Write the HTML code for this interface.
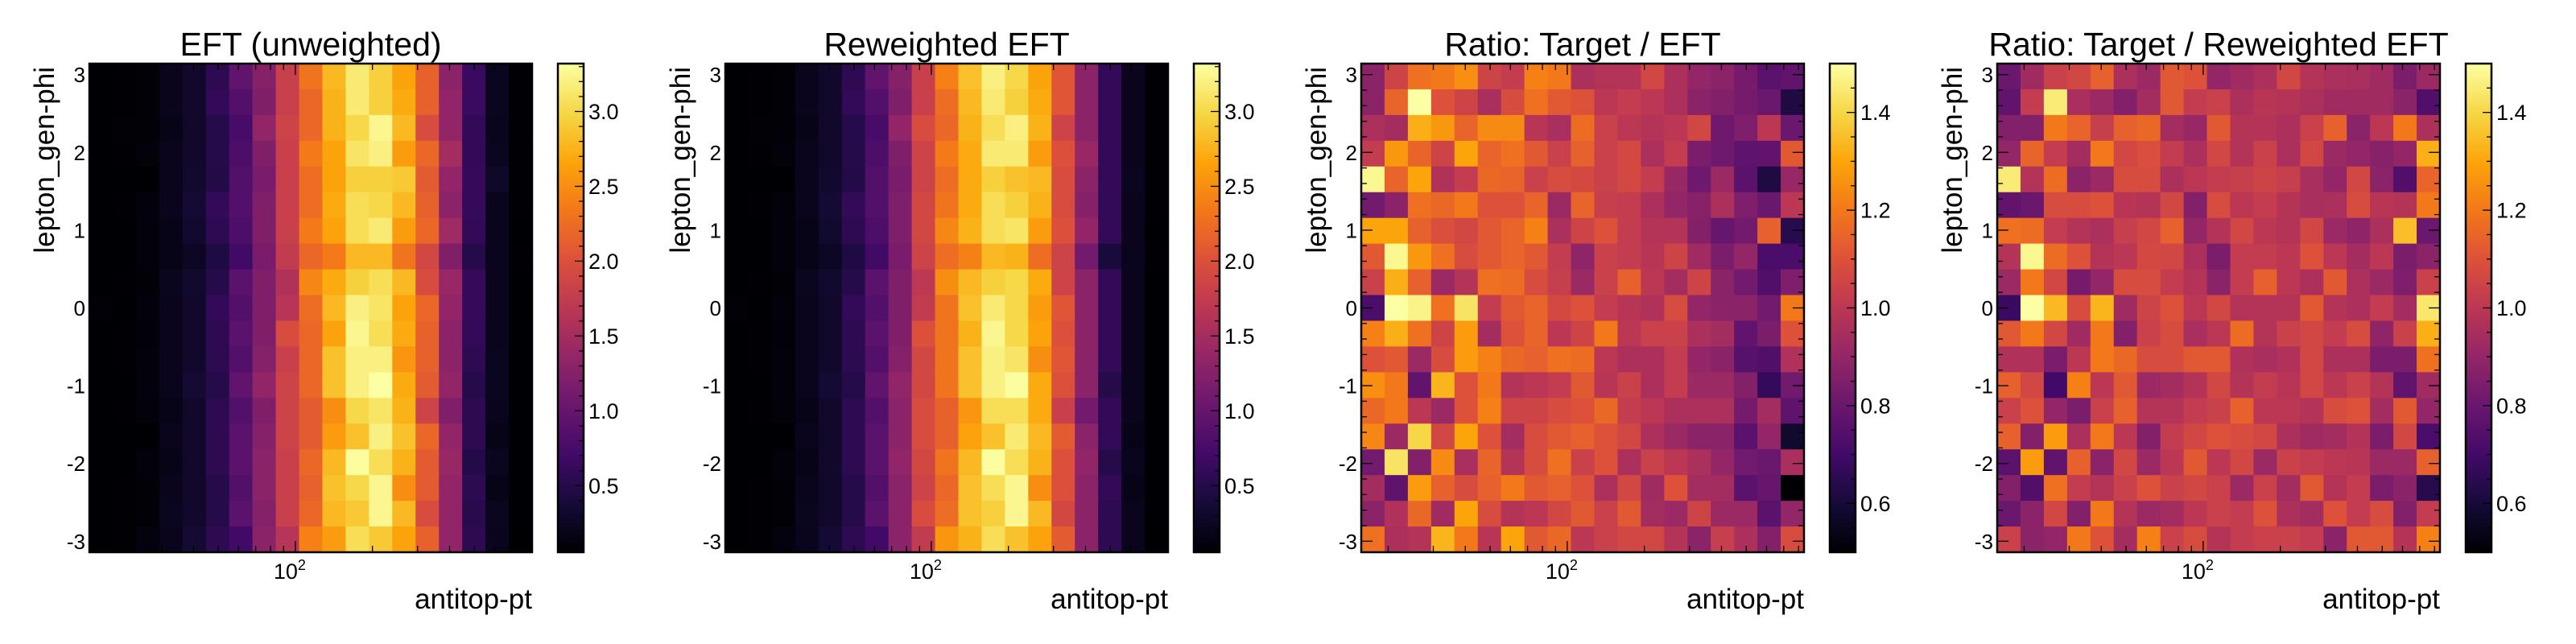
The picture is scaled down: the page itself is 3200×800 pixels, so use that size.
<!DOCTYPE html>
<html><head><meta charset="utf-8">
<style>
html,body{margin:0;padding:0;background:#fff;}
svg{display:block;font-family:"Liberation Sans",Arial,sans-serif;}
</style></head>
<body>
<svg id="fig" width="3200" height="800" viewBox="0 0 3200 800" xmlns="http://www.w3.org/2000/svg"></svg>
<script>
// ---- data (rows listed from top, phi ~ +3, to bottom, phi ~ -3; 19 antitop-pt bins) ----
const titles = ["EFT (unweighted)", "Reweighted EFT", "Ratio: Target / EFT", "Ratio: Target / Reweighted EFT"];
const ptMin = 15.7, ptMax = 840;
const nPtBins = 19, nPhiBins = 19;
const eftZRange = [0.055, 3.32];
const ratioZRange = [0.5, 1.5];
const eftCbTicks = [0.5, 1.0, 1.5, 2.0, 2.5, 3.0];
const eftCbLabels = ["0.5", "1.0", "1.5", "2.0", "2.5", "3.0"];
const ratioCbTicks = [0.6, 0.8, 1.0, 1.2, 1.4];
const ratioCbLabels = ["0.6", "0.8", "1.0", "1.2", "1.4"];
const phiTicks = [-3, -2, -1, 0, 1, 2, 3];
const phiLabels = ["-3", "-2", "-1", "0", "1", "2", "3"];

const eftUnweighted = [
[0.05,0.06,0.08,0.2,0.3,0.55,0.95,1.25,1.8,2.3,2.8,3.15,2.95,2.65,2.15,1.3,0.65,0.22,0.06],
[0.05,0.06,0.08,0.2,0.3,0.6,0.85,1.2,1.8,2.2,2.75,3.15,2.95,2.7,2.15,1.35,0.65,0.22,0.06],
[0.05,0.07,0.08,0.18,0.3,0.5,0.75,1.35,1.85,2.2,2.75,3.0,3.25,2.8,1.95,1.35,0.6,0.2,0.06],
[0.05,0.06,0.1,0.2,0.3,0.5,0.8,1.2,1.8,2.35,2.65,3.1,3.2,2.6,2.2,1.5,0.6,0.22,0.06],
[0.04,0.05,0.05,0.2,0.32,0.48,0.85,1.15,1.8,2.25,2.65,2.95,2.95,2.9,2.1,1.35,0.62,0.28,0.06],
[0.05,0.06,0.1,0.2,0.35,0.6,0.85,1.2,1.8,2.25,2.7,3.05,3.0,2.8,2.15,1.3,0.62,0.2,0.06],
[0.05,0.05,0.1,0.18,0.32,0.55,0.8,1.2,1.8,2.35,2.65,3.05,3.15,2.6,2.2,1.45,0.6,0.2,0.05],
[0.05,0.05,0.1,0.18,0.25,0.45,0.7,1.15,1.75,2.2,2.35,2.8,2.8,2.3,1.9,1.2,0.5,0.2,0.06],
[0.05,0.06,0.08,0.22,0.32,0.5,0.9,1.2,1.6,2.45,2.7,2.95,3.05,2.8,1.95,1.4,0.62,0.2,0.05],
[0.08,0.05,0.1,0.2,0.3,0.6,0.85,1.2,1.65,2.25,2.8,3.2,3.1,2.65,2.2,1.35,0.62,0.2,0.05],
[0.05,0.06,0.09,0.2,0.3,0.55,0.9,1.2,1.95,2.2,2.65,3.25,3.05,2.7,2.15,1.3,0.6,0.2,0.05],
[0.05,0.06,0.1,0.2,0.3,0.55,0.85,1.25,1.8,2.2,2.85,3.2,3.2,2.55,2.15,1.3,0.55,0.22,0.05],
[0.05,0.05,0.1,0.2,0.35,0.5,0.95,1.35,1.85,2.2,2.85,3.2,3.32,2.7,2.1,1.35,0.5,0.22,0.05],
[0.05,0.06,0.1,0.18,0.3,0.55,0.85,1.2,1.85,2.1,2.5,3.0,3.1,2.75,1.85,1.2,0.55,0.2,0.05],
[0.05,0.05,0.05,0.2,0.3,0.55,0.9,1.25,1.85,2.1,2.6,2.85,3.2,2.85,2.2,1.35,0.55,0.18,0.05],
[0.05,0.04,0.1,0.18,0.3,0.55,0.9,1.3,1.8,2.2,2.8,3.3,3.05,2.75,2.1,1.4,0.48,0.22,0.05],
[0.05,0.06,0.08,0.2,0.3,0.5,0.85,1.3,1.8,2.15,2.85,3.0,3.25,2.5,2.1,1.35,0.55,0.18,0.05],
[0.05,0.06,0.08,0.22,0.3,0.5,0.9,1.25,1.8,2.2,2.8,2.9,3.25,2.8,1.95,1.35,0.52,0.22,0.05],
[0.04,0.06,0.12,0.2,0.35,0.55,0.7,1.3,1.65,2.4,2.6,3.05,2.9,2.65,2.15,1.35,0.55,0.2,0.05]
];
const eftReweighted = [
[0.05,0.06,0.08,0.2,0.3,0.55,0.95,1.25,1.8,2.4,2.85,3.2,3.0,2.65,2.05,1.3,0.6,0.2,0.06],
[0.05,0.06,0.08,0.2,0.3,0.6,0.85,1.2,1.8,2.25,2.8,3.15,2.95,2.7,2.05,1.3,0.6,0.2,0.06],
[0.05,0.07,0.08,0.18,0.3,0.5,0.75,1.35,1.95,2.2,2.75,3.05,3.2,2.75,1.85,1.3,0.6,0.2,0.06],
[0.05,0.06,0.1,0.2,0.3,0.5,0.8,1.2,1.85,2.35,2.7,3.15,3.15,2.6,2.0,1.4,0.6,0.2,0.06],
[0.04,0.05,0.05,0.2,0.32,0.48,0.85,1.15,1.85,2.25,2.7,2.95,2.85,2.8,1.95,1.3,0.6,0.22,0.06],
[0.05,0.06,0.1,0.2,0.35,0.6,0.85,1.2,1.9,2.3,2.7,3.05,2.95,2.75,1.95,1.25,0.6,0.2,0.06],
[0.05,0.05,0.1,0.18,0.32,0.55,0.8,1.2,1.9,2.45,2.75,3.05,3.1,2.6,2.0,1.35,0.6,0.2,0.05],
[0.05,0.05,0.1,0.18,0.25,0.45,0.7,1.15,1.85,2.25,2.4,2.8,2.75,2.25,1.85,1.1,0.4,0.2,0.06],
[0.05,0.06,0.08,0.22,0.32,0.5,0.9,1.2,1.7,2.5,2.8,2.95,3.0,2.7,1.85,1.3,0.6,0.2,0.05],
[0.08,0.05,0.1,0.2,0.3,0.6,0.85,1.2,1.75,2.3,2.85,3.15,3.0,2.6,2.05,1.3,0.6,0.2,0.05],
[0.05,0.06,0.09,0.2,0.3,0.55,0.9,1.2,2.0,2.3,2.75,3.25,3.0,2.65,2.0,1.3,0.6,0.2,0.05],
[0.05,0.06,0.1,0.2,0.3,0.55,0.85,1.25,1.9,2.3,2.85,3.2,3.1,2.5,2.05,1.3,0.6,0.2,0.05],
[0.05,0.05,0.1,0.2,0.35,0.5,0.95,1.35,1.9,2.3,2.85,3.2,3.3,2.7,2.0,1.3,0.5,0.2,0.05],
[0.05,0.06,0.1,0.18,0.3,0.55,0.85,1.3,1.95,2.15,2.55,3.05,3.05,2.7,1.8,1.1,0.6,0.2,0.05],
[0.05,0.05,0.05,0.2,0.3,0.55,0.9,1.3,1.95,2.15,2.65,2.85,3.15,2.8,2.1,1.3,0.6,0.18,0.05],
[0.05,0.04,0.1,0.18,0.3,0.55,0.9,1.35,1.9,2.3,2.8,3.3,3.05,2.75,2.0,1.35,0.5,0.2,0.05],
[0.05,0.06,0.08,0.2,0.3,0.5,0.85,1.3,1.85,2.2,2.85,3.05,3.25,2.5,2.0,1.3,0.6,0.18,0.05],
[0.05,0.06,0.08,0.22,0.3,0.5,0.9,1.3,1.95,2.25,2.85,2.95,3.25,2.8,1.9,1.3,0.55,0.2,0.05],
[0.04,0.06,0.12,0.2,0.35,0.55,0.7,1.3,1.75,2.55,2.75,3.05,2.85,2.65,2.1,1.3,0.55,0.2,0.05]
];
const ratioTargetEft = [
[0.88,1.05,1.18,1.2,1.25,1.05,1.02,1.22,1.2,0.96,0.98,0.98,1.06,0.96,0.9,0.88,0.83,0.76,0.78],
[0.88,1.15,1.5,1.1,1.05,0.95,1.08,1.18,1.12,1.1,1.0,1.02,1.0,0.96,0.88,0.86,0.83,0.8,0.62],
[0.96,0.94,1.32,1.27,1.15,1.24,1.24,0.99,0.95,1.17,1.04,1.0,0.98,1.0,1.06,0.81,0.85,1.0,0.8],
[1.02,1.27,1.15,1.05,1.3,1.15,1.18,1.12,1.04,1.14,1.04,1.07,0.96,1.02,0.84,0.81,0.77,0.78,1.12],
[1.48,1.15,1.3,0.97,1.02,1.16,1.15,1.04,1.08,1.07,1.04,1.07,1.02,0.91,0.81,0.92,0.76,0.62,0.91],
[0.82,0.88,1.18,1.16,1.2,1.1,1.1,1.15,0.92,1.15,1.03,1.02,0.96,0.9,0.87,0.96,0.85,0.8,1.0],
[1.3,1.3,1.14,1.09,1.06,1.12,1.15,1.22,0.96,1.05,1.1,1.02,0.98,0.98,0.86,0.79,0.82,1.14,0.64],
[1.12,1.48,1.27,1.18,1.08,1.12,1.15,1.12,1.02,0.89,1.04,1.02,0.99,1.05,0.93,0.84,0.9,0.72,0.72],
[1.04,1.32,1.14,0.92,0.98,1.18,1.17,1.08,1.03,0.92,1.04,1.14,1.0,0.94,1.05,0.88,0.82,0.74,0.85],
[0.72,1.5,1.47,1.18,1.43,1.02,1.12,1.15,1.07,1.1,1.02,0.99,0.97,1.08,0.9,0.88,0.88,0.82,1.2],
[1.22,1.32,1.18,1.05,1.28,0.94,1.1,1.15,1.0,1.05,1.2,1.0,1.04,1.04,0.96,0.94,0.78,0.84,1.1],
[1.1,1.12,0.92,1.08,1.28,1.22,1.16,1.14,1.18,1.17,1.0,0.96,0.96,1.02,0.9,0.88,0.75,0.74,0.97],
[1.25,1.2,0.78,1.33,1.1,1.2,0.98,1.0,1.02,1.12,0.99,1.04,0.96,1.02,0.92,0.92,0.86,0.67,0.82],
[1.16,1.2,1.0,0.92,1.1,1.22,1.05,1.05,1.08,1.1,1.16,1.02,1.0,0.96,0.96,0.96,0.83,0.94,0.77],
[1.23,0.92,1.4,1.06,1.3,1.1,0.94,1.08,1.12,1.14,1.1,1.06,0.96,0.92,0.88,0.88,0.76,0.9,0.58],
[0.82,1.43,0.86,1.24,0.95,1.15,0.98,1.08,1.18,1.04,1.1,0.96,1.04,1.0,0.96,0.9,0.82,0.8,0.95],
[0.94,0.77,1.28,1.14,1.08,1.14,1.2,1.12,1.14,1.1,0.96,1.06,0.93,1.1,0.94,0.94,0.76,0.79,0.5],
[0.88,0.97,1.16,0.93,1.3,1.08,0.98,1.0,1.06,1.12,1.04,1.12,0.94,0.92,1.05,0.92,0.92,0.76,0.9],
[1.18,0.96,0.98,1.33,1.2,0.99,1.3,1.12,1.16,1.0,1.04,1.06,1.06,0.98,0.88,1.03,0.96,0.86,1.08]
];
const ratioTargetReweighted = [
[0.8,0.93,1.04,1.06,1.14,0.96,0.92,1.12,1.1,0.9,0.93,0.96,1.06,0.98,0.96,0.95,0.93,0.84,0.92],
[0.78,1.02,1.45,0.95,0.92,0.86,0.94,1.12,1.02,1.04,0.96,0.99,0.98,0.96,0.93,0.93,0.93,0.88,0.74],
[0.86,0.86,1.2,1.15,1.03,1.14,1.16,0.94,0.91,1.12,0.98,0.98,0.96,1.04,1.14,0.88,1.0,1.2,0.96],
[0.9,1.15,1.02,0.94,1.2,1.06,1.09,1.02,0.96,1.06,0.98,1.04,0.96,1.06,0.92,0.9,0.87,0.9,1.32],
[1.45,0.98,1.17,0.88,0.92,1.08,1.08,0.96,1.0,1.02,1.03,1.05,1.03,0.95,0.9,1.06,0.88,0.74,1.15],
[0.78,0.8,1.08,1.08,1.1,0.99,0.98,1.06,0.86,1.08,1.0,1.02,0.98,0.95,0.96,1.08,0.99,0.98,1.2],
[1.18,1.17,1.02,0.98,0.96,1.03,1.06,1.14,0.9,0.98,1.06,1.0,0.98,1.06,0.92,0.89,0.96,1.35,0.8],
[0.98,1.48,1.17,1.1,0.98,1.0,1.07,1.06,0.96,0.84,1.02,1.02,1.0,1.1,1.0,0.94,1.0,0.84,0.88],
[0.92,1.2,1.06,0.83,0.9,1.08,1.08,1.02,0.98,0.88,1.02,1.14,1.0,0.96,1.12,0.96,0.92,0.85,1.04],
[0.68,1.5,1.34,1.08,1.33,0.93,1.05,1.1,1.0,1.06,0.98,0.98,0.98,1.12,0.98,0.96,1.02,0.94,1.44],
[1.12,1.2,1.06,0.93,1.2,0.86,1.04,1.08,0.95,1.0,1.17,0.98,1.04,1.06,1.02,1.08,0.89,1.04,1.32],
[0.97,0.97,0.84,1.0,1.2,1.16,1.08,1.08,1.12,1.12,0.97,0.95,0.97,1.06,0.96,0.96,0.84,0.84,1.18],
[1.14,1.06,0.7,1.22,1.0,1.12,0.92,0.94,0.98,1.06,0.98,1.02,0.99,1.06,1.0,1.04,0.98,0.78,0.93],
[1.04,1.1,0.9,0.84,1.04,1.14,0.98,0.98,1.02,1.04,1.14,1.0,1.0,0.98,1.08,1.1,0.94,1.12,0.9],
[1.14,0.86,1.28,0.96,1.2,1.0,0.86,1.02,1.06,1.1,1.08,1.06,0.96,0.93,0.94,0.98,0.84,1.06,0.72],
[0.76,1.28,0.78,1.14,0.88,1.06,0.92,1.0,1.12,1.0,1.06,0.92,1.04,1.02,1.0,0.99,0.92,0.92,1.14],
[0.86,0.74,1.18,1.02,0.98,1.04,1.1,1.04,1.06,1.04,0.92,1.04,0.94,1.12,0.98,1.02,0.84,0.88,0.64],
[0.8,0.88,1.06,0.86,1.2,0.98,0.92,0.94,1.0,1.04,1.02,1.1,0.96,0.94,1.1,1.02,1.08,0.86,1.02],
[1.04,0.88,0.9,1.2,1.1,0.94,1.22,1.04,1.08,0.98,1.02,1.04,1.04,1.02,0.88,1.12,1.12,0.98,1.22]
];

// ---- rendering ----
const NS = "http://www.w3.org/2000/svg";
const svg = document.getElementById("fig");
function el(tag, attrs, parent) {
  const e = document.createElementNS(NS, tag);
  for (const k in attrs) e.setAttribute(k, attrs[k]);
  (parent || svg).appendChild(e);
  return e;
}
const infernoStops = ["#000004","#160b39","#420a68","#6a176e","#932667","#bc3754","#dd513a","#f37819","#fca50a","#f6d746","#fcffa4"];
function hex(h){return [parseInt(h.substr(1,2),16),parseInt(h.substr(3,2),16),parseInt(h.substr(5,2),16)];}
function inferno(t) {
  t = Math.max(0, Math.min(1, t));
  const p = t * 10, i = Math.min(9, Math.floor(p)), f = p - i;
  const a = hex(infernoStops[i]), b = hex(infernoStops[i+1]);
  return "rgb(" + [0,1,2].map(k => Math.round(a[k] + (b[k]-a[k]) * f)).join(",") + ")";
}

const panelOffsets = [0, 790, 1580, 2370];
const panelData = [eftUnweighted, eftReweighted, ratioTargetEft, ratioTargetReweighted];
const panelNames = ["eft-unweighted", "reweighted-eft", "ratio-target-eft", "ratio-target-reweighted"];
const PL = 111, PR = 661, PT = 79, PB = 686, CBL = 693, CBR = 725;
const phiMin = -Math.PI, phiMax = Math.PI;

panelData.forEach((data, p) => {
  const ox = panelOffsets[p];
  const isRatio = p >= 2;
  const zr = isRatio ? ratioZRange : eftZRange;
  const g = el("g", {});
  
  
  const xScale = v => ox + PL + (Math.log10(v) - Math.log10(ptMin)) / (Math.log10(ptMax) - Math.log10(ptMin)) * (PR - PL);
  const yScale = v => PB - (v - phiMin) / (phiMax - phiMin) * (PB - PT);
  const zScale = v => PB - (v - zr[0]) / (zr[1] - zr[0]) * (PB - PT);
  const edgePt = i => ptMin * Math.pow(ptMax / ptMin, i / nPtBins);
  const edgePhi = j => phiMin + (phiMax - phiMin) * j / nPhiBins;

  const cells = el("g", {}, g);
  
  
  data.forEach((row, r) => {
    const j = nPhiBins - 1 - r;
    row.forEach((v, c) => {
      const x0 = xScale(edgePt(c)), x1 = xScale(edgePt(c + 1));
      const y0 = yScale(edgePhi(j + 1)), y1 = yScale(edgePhi(j));
      const rc = el("rect", {x: x0.toFixed(2), y: y0.toFixed(2), width: (x1 - x0 + 0.6).toFixed(2), height: (y1 - y0 + 0.6).toFixed(2), fill: inferno((v - zr[0]) / (zr[1] - zr[0]))}, cells);
      
      
    });
  });

  // frame
  const fr = el("rect", {x: ox + PL, y: PT, width: PR - PL, height: PB - PT, fill: "none", stroke: "#000", "stroke-width": 2.5}, g);
  
  

  // x ticks (log)
  const xt = el("g", {stroke: "#000", "stroke-width": 1.3}, g);
  
  
  [20,30,40,50,60,70,80,90,100,200,300,400,500,600,700,800].forEach(v => {
    const x = xScale(v), len = v === 100 ? 14 : 8;
    el("line", {x1: x, x2: x, y1: PB, y2: PB - len}, xt);
    el("line", {x1: x, x2: x, y1: PT, y2: PT + len}, xt);
  });
  const xl = el("text", {x: xScale(100) - 7, y: 719, "font-size": 27, "text-anchor": "middle"}, g);
  
  
  xl.textContent = "10";
  const sup = el("tspan", {dy: -11, "font-size": 18}, xl);
  sup.textContent = "2";

  // y ticks
  const yt = el("g", {stroke: "#000", "stroke-width": 1.3}, g);
  
  
  for (let k = -15; k <= 15; k++) {
    const v = k * 0.2;
    const y = yScale(v), len = (k % 5 === 0) ? 14 : 7;
    el("line", {x1: ox + PL, x2: ox + PL + len, y1: y, y2: y}, yt);
    el("line", {x1: ox + PR, x2: ox + PR - len, y1: y, y2: y}, yt);
  }
  phiTicks.forEach((v, i) => {
    const t = el("text", {x: ox + PL - 5, y: yScale(v) + 9.5, "font-size": 26, "text-anchor": "end"}, g);
    
    
    t.textContent = phiLabels[i];
  });

  // titles
  const tt = el("text", {x: ox + (PL + PR) / 2, y: 69, "font-size": 41, "text-anchor": "middle"}, g);
  
  
  tt.textContent = titles[p];
  const xa = el("text", {x: ox + PR, y: 756, "font-size": 35, "text-anchor": "end"}, g);
  
  
  xa.textContent = "antitop-pt";
  const ya = el("text", {x: 0, y: 0, "font-size": 35, "text-anchor": "end", transform: "translate(" + (ox + 67) + "," + (PT + 4) + ") rotate(-90)"}, g);
  
  
  ya.textContent = "lepton_gen-phi";

  // colorbar
  const cb = el("g", {}, g);
  
  
  const nSteps = 200;
  for (let s = 0; s < nSteps; s++) {
    const y0 = PT + (PB - PT) * s / nSteps;
    el("rect", {x: ox + CBL, y: y0, width: CBR - CBL, height: (PB - PT) / nSteps + 0.5, fill: inferno(1 - (s + 0.5) / nSteps)}, cb);
  }
  el("rect", {x: ox + CBL, y: PT, width: CBR - CBL, height: PB - PT, fill: "none", stroke: "#000", "stroke-width": 2.5}, cb);
  const cbt = el("g", {stroke: "#000", "stroke-width": 1.3}, cb);
  const minorStep = isRatio ? 0.05 : 0.1;
  for (let v = Math.ceil(zr[0] / minorStep) * minorStep; v <= zr[1] + 1e-9; v += minorStep) {
    const y = zScale(v);
    const major = isRatio ? Math.abs(v * 5 - Math.round(v * 5)) < 1e-6 : Math.abs(v * 2 - Math.round(v * 2)) < 1e-6;
    el("line", {x1: ox + CBR, x2: ox + CBR - (major ? 11 : 6), y1: y, y2: y}, cbt);
  }
  const cTicks = isRatio ? ratioCbTicks : eftCbTicks;
  const cLabels = isRatio ? ratioCbLabels : eftCbLabels;
  cTicks.forEach((v, i) => {
    const t = el("text", {x: ox + CBR + 6, y: zScale(v) + 9.5, "font-size": 27}, cb);
    
    
    t.textContent = cLabels[i];
  });
});
</script>
</body></html>
